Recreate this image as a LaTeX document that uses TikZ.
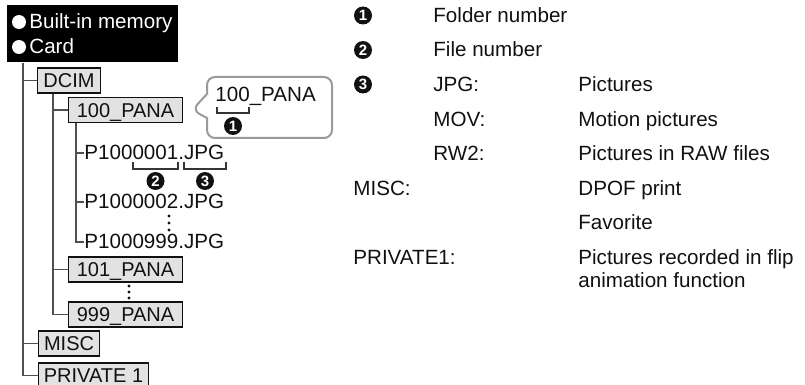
\documentclass[tikz,border=0pt]{standalone}
\usepackage{fontspec}
\setmainfont{Liberation Sans}
\usetikzlibrary{positioning, calc, shapes.callouts}
\definecolor{Ink}{HTML}{111111}
\definecolor{Wire}{HTML}{505050}
\definecolor{Folder}{HTML}{E2E2E2}
\definecolor{Bubble}{HTML}{9A9A9A}
\tikzset{
    folderbox/.style={rectangle, draw=Ink, line width=0.55pt, fill=Folder, text=Ink, inner sep=0pt,
        anchor=west, minimum height=12.5pt, text height=7.4pt, text depth=0pt, font=\fontsize{10}{12}\selectfont},
    treeline/.style={draw=Wire, line width=0.9pt},
    rowtext/.style={anchor=base west, inner sep=0pt, text=Ink},
    numdot/.style={circle, fill=Ink, text=white, inner sep=0pt, minimum size=9pt, font=\bfseries\fontsize{7.5}{8}\selectfont},
    bracketline/.style={draw=Ink!85, line width=0.8pt},
    bulletdot/.style={circle, fill=white, inner sep=0pt, minimum size=7pt},
}

\begin{document}
\begin{tikzpicture}[x=0.5pt, y=-0.5pt, font=\fontsize{10.3}{12}\selectfont]
    \useasboundingbox (0,0) rectangle (805,385);

    % --- Media (black header) ---
    \node[rectangle, fill=black, inner sep=0pt, anchor=north west,
          minimum width=85.5pt, minimum height=28.5pt] (media) at (7,5) {};
    \node[bulletdot] (dot1) at (19,22) {};
    \node[bulletdot] (dot2) at (19,47) {};
    \node[rowtext, text=white] (builtin) at (29,29) {Built-in memory};
    \node[rowtext, text=white] (card) at (29,54) {Card};

    % --- Folders ---
    \node[folderbox, minimum width=31.5pt] (dcim) at (37,80.5) {DCIM};
    \node[folderbox, minimum width=57pt] (pana100) at (68,110) {100\_PANA};
    \node[folderbox, minimum width=57pt] (pana101) at (68,269.5) {101\_PANA};
    \node[folderbox, minimum width=57pt] (pana999) at (68,314.5) {999\_PANA};
    \node[folderbox, minimum width=30.5pt] (misc) at (38,343.5) {MISC};
    \node[folderbox, minimum width=55pt] (private) at (38,375.5) {PRIVATE 1};

    % --- Files ---
    \node[rowtext] (f1) at (84,160) {P1000001.JPG};
    \node[rowtext] (f2) at (84,209) {P1000002.JPG};
    \node[rowtext] (f3) at (84,249) {P1000999.JPG};

    % --- Tree lines ---
    \coordinate (trk) at ([xshift=8pt]media.south west);
    \draw[treeline] (trk) |- (private.west);
    \foreach \n in {dcim, misc}
        \draw[treeline] (trk |- \n.west) -- (\n.west);

    \coordinate (sub) at ([xshift=8pt]dcim.south west);
    \draw[treeline] (sub) |- (pana999.west);
    \foreach \n in {pana100, pana101}
        \draw[treeline] (sub |- \n.west) -- (\n.west);

    \coordinate (fl) at ([xshift=4pt]pana100.south west);
    \draw[treeline] (fl) |- (f3.west);
    \foreach \n in {f1, f2}
        \draw[treeline] (fl |- \n.west) -- (\n.west);

    % puntini
    \foreach \d in {0,1,2} {
        \fill[Ink] (169, 216+\d*7) circle (1.6);
        \fill[Ink] (129, 286+\d*6) circle (1.6);
    }

    % --- Brackets under the file name ---
    \draw[bracketline] (133,162) -- (133,169) -- (178,169) -- (178,162);
    \draw[bracketline] (184,162) -- (184,169) -- (226,169) -- (226,162);
    \node[numdot] (n2f) at (155.5,181) {2};
    \node[numdot] (n3f) at (205,181) {3};

    % --- Callout ---
    \node[rectangle callout, draw=Bubble, line width=1pt, fill=white, rounded corners=4pt,
          minimum width=62.5pt, minimum height=30.5pt, callout pointer width=12pt,
          callout absolute pointer={([xshift=4.5pt]pana100.east)}] (bubble) at (269.5,107.5) {};
    \node[rowtext] (bubtext) at (215,102) {100\_PANA};
    \draw[bracketline] (217,107) -- (217,113) -- (249,113) -- (249,107);
    \node[numdot] (n1b) at (233,126) {1};

    % --- Legend ---
    \node[numdot] (n1) at (363,15.5) {1};
    \node[numdot] (n2) at (363,50) {2};
    \node[numdot] (n3) at (363,84.5) {3};
    \node[rowtext] (folder) at (433,22.4) {Folder number};
    \node[rowtext] (filenum) at (433,57) {File number};
    \node[rowtext] (jpg) at (433,91.6) {JPG:};
    \node[rowtext] (jpgdesc) at (578,91.6) {Pictures};
    \node[rowtext] (mov) at (433,126.2) {MOV:};
    \node[rowtext] (movdesc) at (578,126.2) {Motion pictures};
    \node[rowtext] (rw) at (433,160.8) {RW2:};
    \node[rowtext] (rwdesc) at (578,160.8) {Pictures in RAW files};
    \node[rowtext] (misckey) at (353,195.4) {MISC:};
    \node[rowtext] (miscdesc) at (578,195.4) {DPOF print};
    \node[rowtext] (fav) at (578,230) {Favorite};
    \node[rowtext] (privkey) at (353,264.6) {PRIVATE1:};
    \node[rowtext] (privdesc) at (578,264.6) {Pictures recorded in flip};
    \node[rowtext] (privdesc2) at (578,287.6) {animation function};
\end{tikzpicture}
\end{document}
